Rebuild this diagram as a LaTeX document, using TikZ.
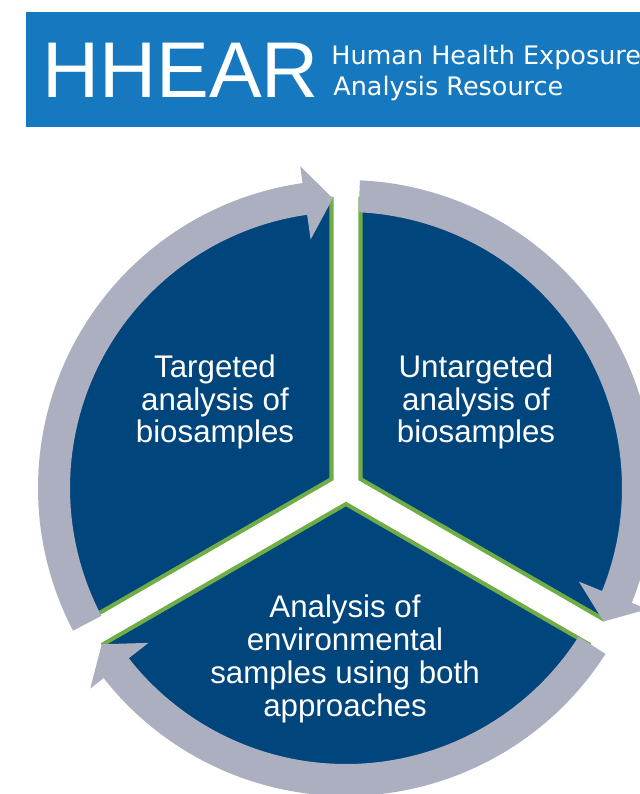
\documentclass[tikz,border=0pt]{standalone}
\usepackage{fontspec}
\setmainfont{Liberation Sans}
\newfontfamily\taglinefont{DejaVu Sans}
\usepackage{tikz}
\usetikzlibrary{positioning, calc}
\usepackage{xcolor}
\definecolor{hhearblue}{RGB}{22,121,192}
\definecolor{pieblue}{RGB}{0,69,124}
\definecolor{piegreen}{RGB}{112,173,71}
\definecolor{ringgray}{RGB}{171,175,192}
\tikzset{
    % Banner
    banner/.style={fill=hhearblue},
    logotext/.style={text=white, inner sep=0pt, anchor=base west,
                font=\fontsize{45}{45}\selectfont},
    tagline/.style={text=white, inner sep=0pt, anchor=base west,
                font=\taglinefont\fontsize{14.5}{17}\selectfont},
    % Pie segments
    segment/.style={fill=pieblue, draw=piegreen, line width=2.3pt},
    seglabel/.style={text=white, align=center,
                font=\fontsize{17.8}{18.7}\selectfont},
    % Cycle arrows
    ringarrow/.style={fill=ringgray},
}

\begin{document}
\begin{tikzpicture}[x=0.02cm, y=0.02cm]
\useasboundingbox[fill=white] (0,0) rectangle (639,-794);

% banner
\fill[banner] (26,-12) rectangle (660,-127);
\node[logotext] (logo)     at (42,-97)  {HHEAR};
\node[tagline]  (tagline1) at (331,-65) {Human Health Exposure};
\node[tagline]  (tagline2) at (333,-95) {Analysis Resource};

% exploded pie
\coordinate (c)  at (346,-488);
\coordinate (tl) at (331.5,-479);
\coordinate (tr) at (360.5,-479);
\coordinate (bt) at (346,-504);

\draw[segment] (tl) -- ++(90:280)  arc[start angle=90,  end angle=210, radius=280] -- cycle;
\draw[segment] (tr) -- ++(-30:280) arc[start angle=-30, end angle=90,  radius=280] -- cycle;
\draw[segment] (bt) -- ++(210:280) arc[start angle=210, end angle=330, radius=280] -- cycle;

% arrows round the pie
\foreach \tail/\tip in {207.6/92.6, 87.4/-27.4, -32.6/-147.4} {
    \pgfmathsetmacro{\base}{\tip+5.5}
    \fill[ringarrow] ($(c)+(\tail:308)$) arc[start angle=\tail, end angle=\base, radius=308]
        -- ($(c)+(\base:325)$) -- ($(c)+(\tip:290)$) -- ($(c)+(\base:251)$)
        -- ($(c)+(\base:276)$) arc[start angle=\base, end angle=\tail, radius=276] -- cycle;
}

% labels
\node[seglabel] (targeted)   at (215,-402) {Targeted\\analysis of\\biosamples};
\node[seglabel] (untargeted) at (476,-402) {Untargeted\\analysis of\\biosamples};
\node[seglabel] (environ)    at (345,-659) {Analysis of\\environmental\\samples using both\\approaches};
\end{tikzpicture}
\end{document}
